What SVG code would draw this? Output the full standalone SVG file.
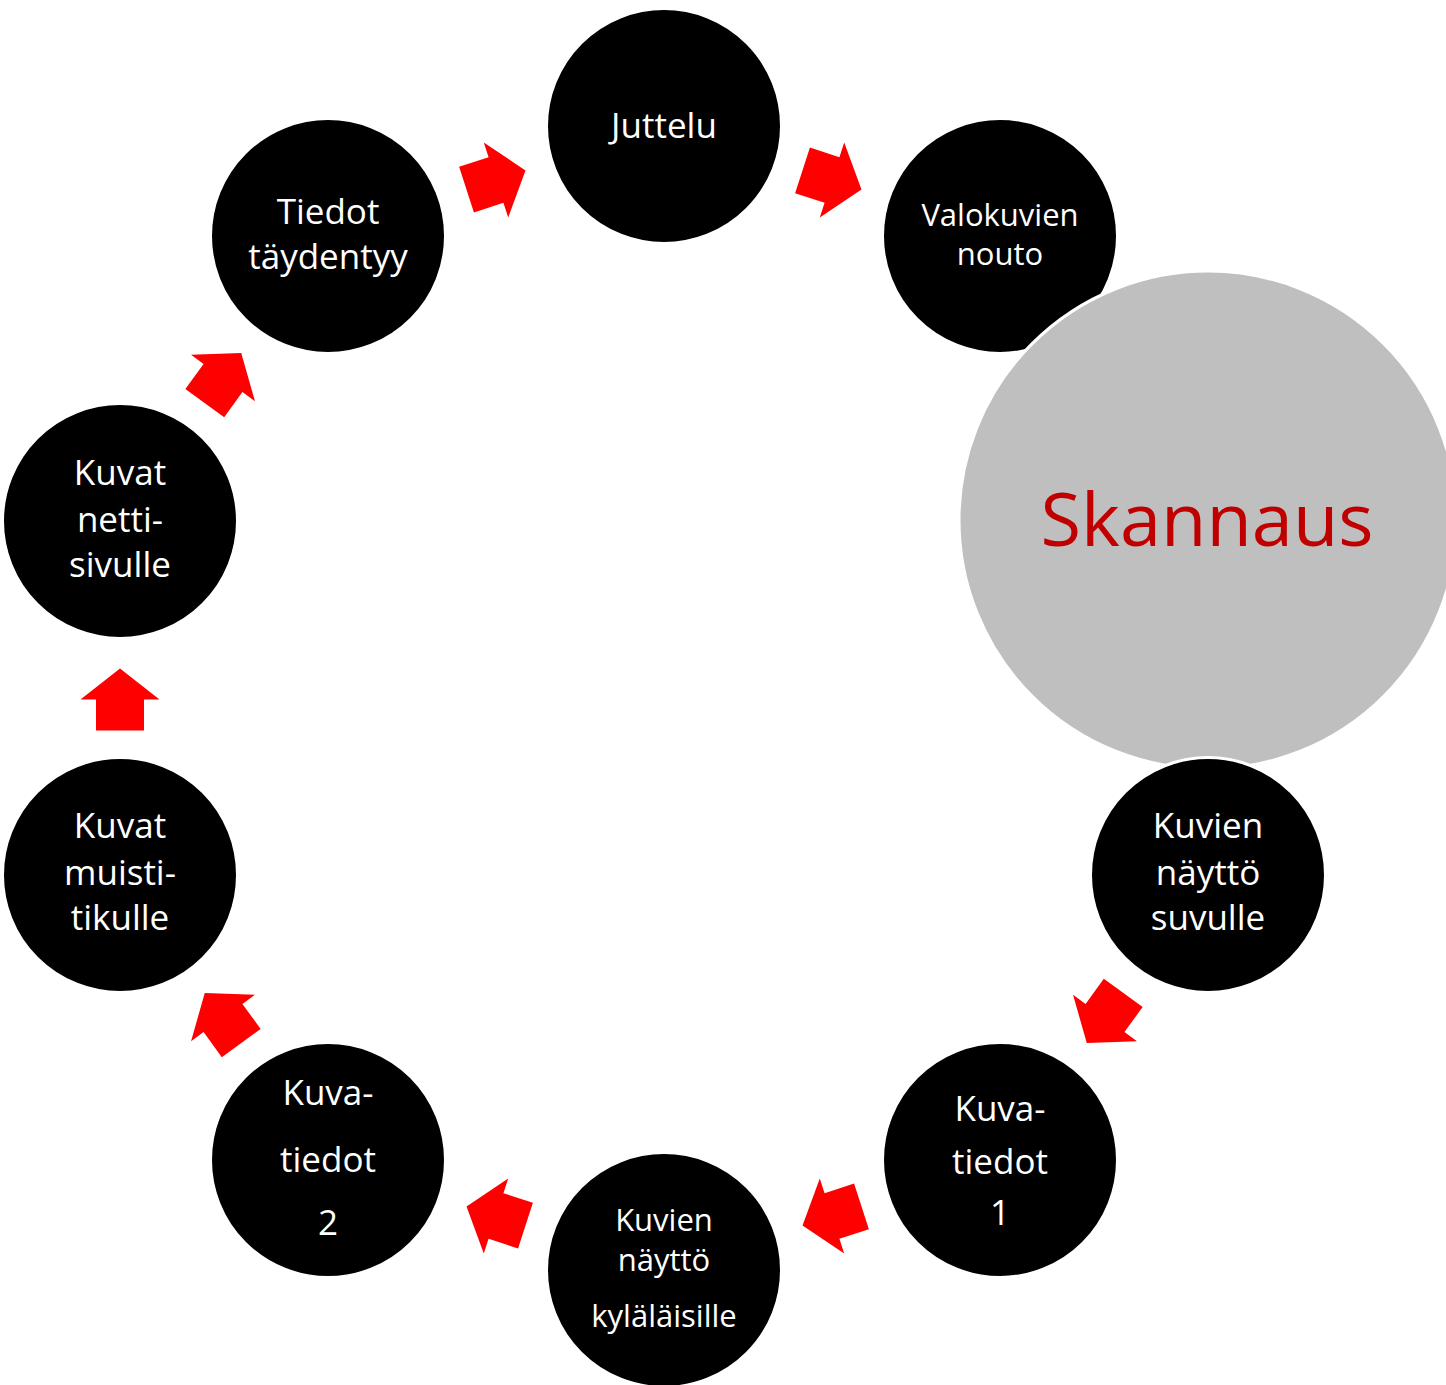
<svg xmlns="http://www.w3.org/2000/svg" width="1446" height="1385" viewBox="0 0 1446 1385">
<defs>
<style>
.node{fill:#000;stroke:#fff;stroke-width:3}
.big{fill:#bfbfbf;stroke:#fff;stroke-width:3}
text{font-family:"Open Sans","Noto Sans",sans-serif;fill:#fff;text-anchor:middle}
.l{font-size:35px}
.s{font-size:31px}
.sk{font-size:74px;fill:#c00000}
.arr{fill:#ff0000}
</style>
<polygon id="ar" points="-31,-24 0,-24 0,-39.5 31,0 0,39.5 0,24 -31,24"/>
</defs>
<rect width="1446" height="1385" fill="#fff"/>
<g id="connectors" class="arr">
<use href="#ar" transform="translate(832,180) rotate(18)"/>
<use href="#ar" transform="translate(1105,1018) rotate(126)"/>
<use href="#ar" transform="translate(832,1216) rotate(162)"/>
<use href="#ar" transform="translate(496,1216) rotate(198)"/>
<use href="#ar" transform="translate(223,1018) rotate(234)"/>
<use href="#ar" transform="translate(120,699.5) rotate(270)"/>
<use href="#ar" transform="translate(223,378) rotate(306)"/>
<use href="#ar" transform="translate(496,180) rotate(342)"/>
</g>
<g id="juttelu"><circle class="node" cx="664" cy="126" r="117.5"/><text class="l" x="664" y="138">Juttelu</text></g>
<g id="valokuvien"><circle class="node" cx="1000" cy="236" r="117.5"/><text class="s" x="1000" y="226">Valokuvien</text><text class="s" x="1000" y="265">nouto</text></g>
<g id="skannaus"><circle class="big" cx="1208" cy="520" r="249"/><text class="sk" x="1207" y="546">Skannaus</text></g>
<g id="suvulle"><circle class="node" cx="1208" cy="875" r="117.5"/><text class="l" x="1208" y="838">Kuvien</text><text class="l" x="1208" y="885">näyttö</text><text class="l" x="1208" y="930">suvulle</text></g>
<g id="kuvatiedot1"><circle class="node" cx="1000" cy="1160" r="117.5"/><text class="l" x="1000" y="1121">Kuva-</text><text class="l" x="1000" y="1174">tiedot</text><text class="l" x="1000" y="1225">1</text></g>
<g id="kylalaisille"><circle class="node" cx="664" cy="1270" r="117.5"/><text class="s" x="664" y="1231">Kuvien</text><text class="s" x="664" y="1271">näyttö</text><text class="s" x="664" y="1327">kyläläisille</text></g>
<g id="kuvatiedot2"><circle class="node" cx="328" cy="1160" r="117.5"/><text class="l" x="328" y="1105">Kuva-</text><text class="l" x="328" y="1172">tiedot</text><text class="l" x="328" y="1235">2</text></g>
<g id="muistitikulle"><circle class="node" cx="120" cy="875" r="117.5"/><text class="l" x="120" y="838">Kuvat</text><text class="l" x="120" y="885">muisti-</text><text class="l" x="120" y="930">tikulle</text></g>
<g id="nettisivulle"><circle class="node" cx="120" cy="521" r="117.5"/><text class="l" x="120" y="485">Kuvat</text><text class="l" x="120" y="532">netti-</text><text class="l" x="120" y="577">sivulle</text></g>
<g id="tiedot"><circle class="node" cx="328" cy="236" r="117.5"/><text class="l" x="328" y="224">Tiedot</text><text class="l" x="328" y="269">täydentyy</text></g>
</svg>
